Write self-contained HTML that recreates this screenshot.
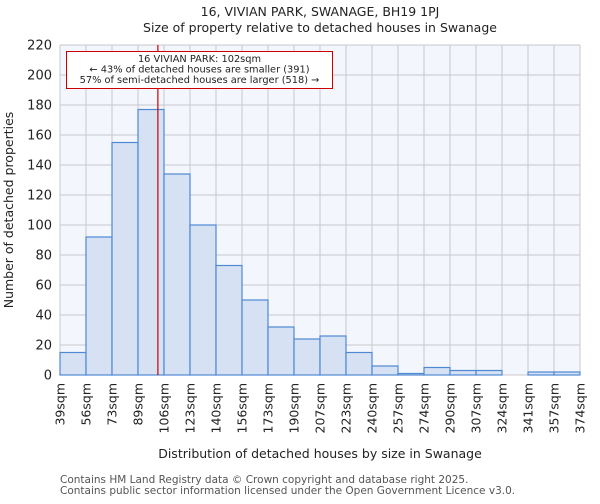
<!DOCTYPE html>
<html><head><meta charset="utf-8"><style>
body{margin:0;background:#fff;font-family:"DejaVu Sans","Liberation Sans",sans-serif}
svg text{font-family:"DejaVu Sans","Liberation Sans",sans-serif;fill:#222}
</style></head><body>
<svg id="chart" width="600" height="500">
<text x="320" y="16" font-size="12.5" text-anchor="middle">16, VIVIAN PARK, SWANAGE, BH19 1PJ</text>
<text x="320" y="32" font-size="12.5" text-anchor="middle">Size of property relative to detached houses in Swanage</text>
<rect x="60" y="45" width="520" height="330" fill="#f3f6fd"/>
<g id="grid"></g><g id="bars"></g><g id="axes"></g>
<text x="320" y="458" font-size="12.5" text-anchor="middle">Distribution of detached houses by size in Swanage</text>
<text transform="translate(13,210) rotate(-90)" font-size="12.5" text-anchor="middle">Number of detached properties</text>
<text x="60" y="483" font-size="10.5" style="fill:#555">Contains HM Land Registry data © Crown copyright and database right 2025.</text>
<text x="60" y="494" font-size="10.5" style="fill:#555">Contains public sector information licensed under the Open Government Licence v3.0.</text>
</svg>
<script>
const binLabels=["39sqm","56sqm","73sqm","89sqm","106sqm","123sqm","140sqm","156sqm","173sqm","190sqm","207sqm","223sqm","240sqm","257sqm","274sqm","290sqm","307sqm","324sqm","341sqm","357sqm","374sqm"];
const binEdges=[39,56,73,89,106,123,140,156,173,190,207,223,240,257,274,290,307,324,341,357,374];
const counts=[15,92,155,177,134,100,73,50,32,24,26,15,6,1,5,3,3,0,2,2];
const yTicks=[0,20,40,60,80,100,120,140,160,180,200,220];
const propertySize=102;
const X0=60,X1=580,Y0=375,Y1=45,YMAX=220;
const nb=counts.length;
const xi=i=>X0+i*(X1-X0)/nb;
const y=v=>Y0-v*(Y0-Y1)/YMAX;
function xv(v){for(let i=0;i<nb;i++){if(v<=binEdges[i+1])return xi(i)+(v-binEdges[i])/(binEdges[i+1]-binEdges[i])*(xi(i+1)-xi(i));}return X1;}
const NS="http://www.w3.org/2000/svg";
function mk(t,a,p){const e=document.createElementNS(NS,t);for(const k in a)e.setAttribute(k,a[k]);p.appendChild(e);return e;}
const G=document.getElementById('grid'),B=document.getElementById('bars'),A=document.getElementById('axes'),S=document.getElementById('chart');
yTicks.forEach(t=>{const l=mk('line',{x1:X0,x2:X1,y1:y(t),y2:y(t),stroke:'#c8c8cc','stroke-width':1},G);


const tx=mk('text',{x:X0-8,y:y(t)+4.5,'font-size':13,'text-anchor':'end'},A);tx.textContent=t;

});
binLabels.forEach((lb,i)=>{const l=mk('line',{x1:xi(i),x2:xi(i),y1:Y1,y2:Y0,stroke:'#c8c8cc','stroke-width':1},G);


const tx=mk('text',{transform:`translate(${xi(i)+4.5},${Y0+8}) rotate(-90)`,'font-size':12.5,'text-anchor':'end'},A);tx.textContent=lb;

});
counts.forEach((c,i)=>{if(c<=0)return;const r=mk('rect',{x:xi(i),y:y(c),width:xi(i+1)-xi(i),height:Y0-y(c),fill:'#d6e1f3',stroke:'#4f88d3','stroke-width':1.2},B);

});
const px=xv(propertySize);
const rl=mk('line',{x1:px,x2:px,y1:Y1,y2:Y0,stroke:'#cc0000','stroke-width':1.2},S);


const bx=mk('rect',{x:66.5,y:51.5,width:266,height:37,fill:'#fff',stroke:'#cc0000','stroke-width':1},S);


["16 VIVIAN PARK: 102sqm","← 43% of detached houses are smaller (391)","57% of semi-detached houses are larger (518) →"].forEach((s,k)=>{const t=mk('text',{x:199.5,y:62+k*10.5,'font-size':9.8,'text-anchor':'middle'},S);t.textContent=s;

});
</script>
</body></html>
